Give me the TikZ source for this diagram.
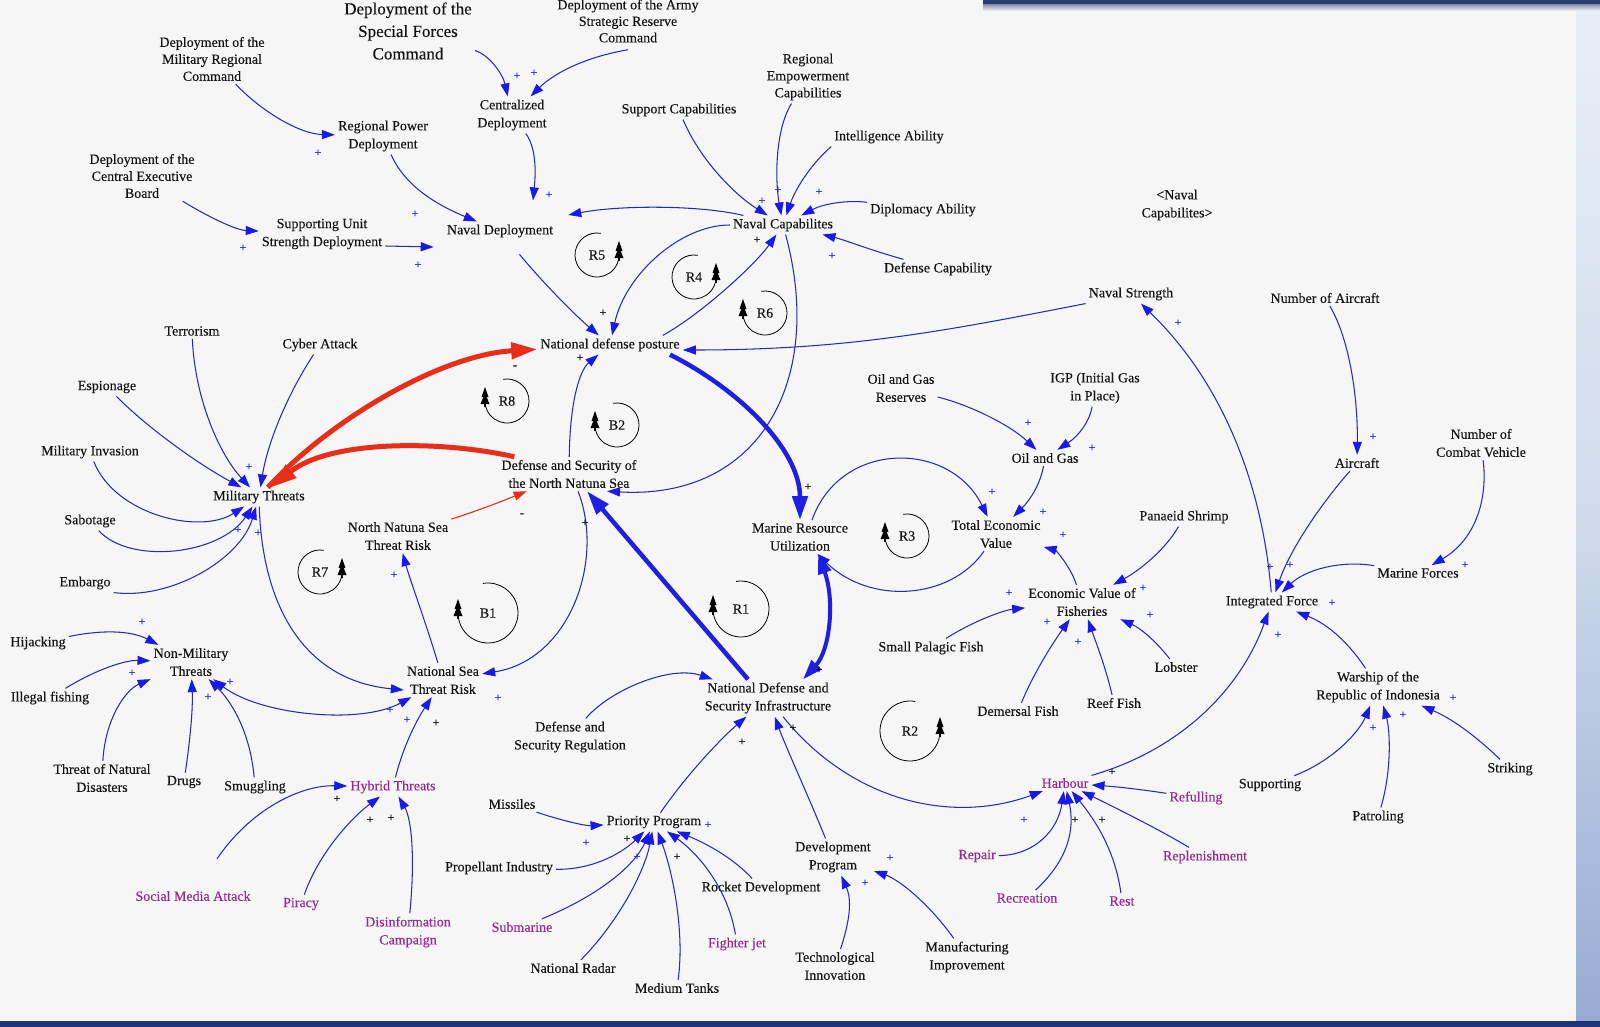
\documentclass[tikz,border=0pt]{standalone}
\usepackage{fontspec}
\setmainfont{Liberation Serif}
\newfontfamily\lblfont[FakeBold=0.25]{Liberation Serif}
\usetikzlibrary{arrows.meta}
\definecolor{bgc}{RGB}{246,246,246}
\definecolor{lnc}{RGB}{40,40,185}
\definecolor{ahc}{RGB}{25,25,235}
\definecolor{thb}{RGB}{30,30,228}
\definecolor{rdc}{RGB}{232,45,25}
\definecolor{puc}{RGB}{150,40,145}
\definecolor{navyc}{RGB}{45,60,110}
\definecolor{botc}{RGB}{32,52,120}
\definecolor{txc}{RGB}{20,20,20}
\newcounter{plc}
\newcommand\addplus[3]{\stepcounter{plc}\node[#1] (plus\arabic{plc}) at (#2,#3) {+};}
\newcommand\loopR[5]{\node[looplbl] (#1) at (#2,#3) {#5};
 \draw[loopc] ({#2+#4*cos(-80)},{#3+#4*sin(-80)}) arc[start angle=-80,end angle=-352,radius=#4];
 \pic at ({#2+#4},{#3-3}) {lmark};}
\newcommand\loopL[5]{\node[looplbl] (#1) at (#2,#3) {#5};
 \draw[loopc] ({#2+#4*cos(-100)},{#3+#4*sin(-100)}) arc[start angle=-100,end angle=172,radius=#4];
 \pic at ({#2-#4},{#3-3}) {lmark};}
\tikzset{
 lbl/.style={font=\lblfont\fontsize{14}{18}\selectfont, align=center, inner sep=3pt, text=txc},
 lbl3/.style={lbl, font=\lblfont\fontsize{14}{17}\selectfont},
 plbl/.style={lbl, text=puc},
 looplbl/.style={font=\lblfont\fontsize{14}{16}\selectfont, inner sep=1pt, text=txc},
 loopc/.style={draw=black, line width=0.8pt},
 lnk/.style={draw=lnc, line width=1.05pt, -{Triangle[length=13pt,width=9pt,color=ahc]}},
 lnk2/.style={draw=lnc, line width=1.05pt, {Triangle[length=13pt,width=9pt,color=ahc]}-{Triangle[length=13pt,width=9pt,color=ahc]}},
 thk/.style={draw=thb, line width=4.5pt, -{Triangle[length=24pt,width=15pt,color=thb]}},
 thk2/.style={draw=thb, line width=4pt, {Triangle[length=20pt,width=13pt,color=thb]}-{Triangle[length=20pt,width=13pt,color=thb]}},
 redthk/.style={draw=rdc, line width=5pt, -{Triangle[length=26pt,width=16pt,color=rdc]}},
 redthin/.style={draw=rdc, line width=1.1pt, -{Triangle[length=13pt,width=9pt,color=rdc]}},
 pb/.style={text=ahc, font=\lblfont\fontsize{12}{12}\selectfont, inner sep=0pt},
 pk/.style={text=black, font=\lblfont\fontsize{12}{12}\selectfont, inner sep=0pt},
 lmark/.pic={\fill[black] (-3.5,-1) -- (0,-11) -- (3.5,-1) -- cycle;
             \fill[black] (-4.5,6) -- (0,-5) -- (4.5,6) -- cycle;
             \draw[black,line width=1.5pt] (0,4) -- (0,9);}
}
\begin{document}
\begin{tikzpicture}[x=1pt,y=-1pt]
\useasboundingbox (0,0) rectangle (1600,1027);
\clip (0,0) rectangle (1600,1027);
\fill[bgc] (0,0) rectangle (1600,1027);
\shade[top color={rgb,255:red,232;green,238;blue,246}, bottom color={rgb,255:red,150;green,172;blue,212}, middle color={rgb,255:red,208;green,220;blue,236}] (1576,0) rectangle (1600,1021);
\shade[top color=navyc!60, bottom color=bgc] (983,4) rectangle (1600,11);
\fill[navyc] (983,0) rectangle (1600,4);
\fill[botc] (0,1021) rectangle (1600,1027);

% ---------- nodes ----------
\node[lbl, font=\lblfont\fontsize{17}{22.5}\selectfont] (specf) at (408,31) {Deployment of the\\Special Forces\\Command};
\node[lbl, font=\lblfont\fontsize{14}{16.5}\selectfont] (army) at (628,21) {Deployment of the Army\\Strategic Reserve\\Command};
\node[lbl3] (milreg) at (212,59) {Deployment of the\\Military Regional\\Command};
\node[lbl] (regpow) at (383,136) {Regional Power\\Deployment};
\node[lbl3] (cexec) at (142,176) {Deployment of the\\Central Executive\\Board};
\node[lbl] (suppu) at (322,234) {Supporting Unit\\Strength Deployment};
\node[lbl] (central) at (512,115) {Centralized\\Deployment};
\node[lbl] (navdep) at (500,231) {Naval Deployment};
\node[lbl] (suppcap) at (679,110) {Support Capabilities};
\node[lbl3] (regemp) at (808,77) {Regional\\Empowerment\\Capabilities};
\node[lbl] (intel) at (889,137) {Intelligence Ability};
\node[lbl] (diplo) at (923,210) {Diplomacy Ability};
\node[lbl] (navcap) at (783,225) {Naval Capabilites};
\node[lbl] (defcap) at (938,269) {Defense Capability};
\node[lbl] (navcapb) at (1177,205) {\textless Naval\\Capabilites\textgreater};
\node[lbl] (navstr) at (1131,294) {Naval Strength};
\node[lbl] (ndp) at (610,345) {National defense posture};
\node[lbl] (terror) at (192,331) {Terrorism};
\node[lbl] (cyber) at (320,345) {Cyber Attack};
\node[lbl] (espion) at (107,387) {Espionage};
\node[lbl] (invas) at (90,452) {Military Invasion};
\node[lbl] (milthr) at (259,497) {Military Threats};
\node[lbl] (sabot) at (90,521) {Sabotage};
\node[lbl] (embargo) at (85,583) {Embargo};
\node[lbl] (nnstr) at (398,536) {North Natuna Sea\\Threat Risk};
\node[lbl] (dsnns) at (569,474) {Defense and Security of\\the North Natuna Sea};
\node[lbl] (mru) at (800,537) {Marine Resource\\Utilization};
\node[lbl] (ogr) at (901,388) {Oil and Gas\\Reserves};
\node[lbl] (igp) at (1095,388) {IGP (Initial Gas\\in Place)};
\node[lbl] (oilgas) at (1045,458) {Oil and Gas};
\node[lbl] (tev) at (996,534) {Total Economic\\Value};
\node[lbl] (shrimp) at (1184,517) {Panaeid Shrimp};
\node[lbl] (evf) at (1082,602) {Economic Value of\\Fisheries};
\node[lbl] (spf) at (931,648) {Small Palagic Fish};
\node[lbl] (demersal) at (1018,711) {Demersal Fish};
\node[lbl] (reef) at (1114,703) {Reef Fish};
\node[lbl] (lobster) at (1176,667) {Lobster};
\node[plbl] (harbour) at (1065,783) {Harbour};
\node[plbl] (refull) at (1196,798) {Refulling};
\node[plbl] (replen) at (1205,857) {Replenishment};
\node[plbl] (repair) at (977,856) {Repair};
\node[plbl] (recre) at (1027,898) {Recreation};
\node[plbl] (rest) at (1122,901) {Rest};
\node[lbl] (devprog) at (833,857) {Development\\Program};
\node[lbl] (techinn) at (835,966) {Technological\\Innovation};
\node[lbl] (manuf) at (967,957) {Manufacturing\\Improvement};
\node[lbl] (ndsi) at (768,698) {National Defense and\\Security Infrastructure};
\node[lbl] (dsreg) at (570,737) {Defense and\\Security Regulation};
\node[lbl] (prio) at (654,822) {Priority Program};
\node[lbl] (missiles) at (512,804) {Missiles};
\node[lbl] (propel) at (499,868) {Propellant Industry};
\node[plbl] (subm) at (522,927) {Submarine};
\node[lbl] (radar) at (573,968) {National Radar};
\node[lbl] (tanks) at (677,988) {Medium Tanks};
\node[plbl] (fjet) at (737,944) {Fighter jet};
\node[lbl] (rocket) at (761,888) {Rocket Development};
\node[lbl] (nstr) at (443,680) {National Sea\\Threat Risk};
\node[lbl] (hijack) at (38,643) {Hijacking};
\node[lbl] (nmt) at (191,662) {Non-Military\\Threats};
\node[lbl] (illeg) at (50,698) {Illegal fishing};
\node[lbl] (tnd) at (102,778) {Threat of Natural\\Disasters};
\node[lbl] (drugs) at (184,782) {Drugs};
\node[lbl] (smug) at (255,787) {Smuggling};
\node[plbl] (hybrid) at (393,787) {Hybrid Threats};
\node[plbl] (sma) at (193,896) {Social Media Attack};
\node[plbl] (piracy) at (301,904) {Piracy};
\node[plbl] (disinfo) at (408,932) {Disinformation\\Campaign};
\node[lbl] (noa) at (1325,298) {Number of Aircraft};
\node[lbl] (aircraft) at (1357,463) {Aircraft};
\node[lbl] (ncv) at (1481,443) {Number of\\Combat Vehicle};
\node[lbl] (marine) at (1418,573) {Marine Forces};
\node[lbl] (intf) at (1272,602) {Integrated Force};
\node[lbl] (warship) at (1378,687) {Warship of the\\Republic of Indonesia};
\node[lbl] (supporting) at (1270,785) {Supporting};
\node[lbl] (patrol) at (1378,817) {Patroling};
\node[lbl] (striking) at (1510,769) {Striking};

% ---------- loops ----------
\loopR{lR5}{597}{255}{22}{R5}
\loopR{lR4}{694}{277}{22}{R4}
\loopL{lR6}{765}{313}{22}{R6}
\loopL{lR8}{507}{401}{22}{R8}
\loopL{lB2}{617}{425}{22}{B2}
\loopR{lR7}{320}{572}{22}{R7}
\loopL{lB1}{488}{613}{30}{B1}
\loopL{lR1}{741}{609}{28}{R1}
\loopL{lR3}{907}{536}{22}{R3}
\loopR{lR2}{910}{731}{30}{R2}

% ---------- connectors ----------
\draw[lnk] (milreg) .. controls (262,112) and (300,134) .. (regpow);
\draw[lnk] (cexec) .. controls (205,215) and (235,230) .. (suppu);
\draw[lnk] ([yshift=-12pt]suppu.east) -- ([xshift=-10pt,yshift=-16pt]navdep.west);
\draw[lnk] (regpow) .. controls (400,175) and (420,198) .. (navdep);
\draw[lnk] (specf) .. controls (490,55) and (503,75) .. (central);
\draw[lnk] ([yshift=-4pt]army.south) .. controls (570,60) and (545,82) .. (central);
\draw[lnk] (central) .. controls (538,150) and (535,180) .. ([xshift=33pt,yshift=21pt]navdep.north);
\draw[lnk] (navcap) .. controls (700,205) and (620,205) .. ([xshift=12pt,yshift=16pt]navdep.east);
\draw[lnk] (suppcap) .. controls (700,160) and (735,195) .. (navcap);
\draw[lnk] (regemp) .. controls (775,130) and (775,180) .. (navcap);
\draw[lnk] (intel.south west) .. controls (810,165) and (795,190) .. (navcap);
\draw[lnk] (diplo) .. controls (850,200) and (825,203) .. (navcap);
\draw[lnk] (defcap) .. controls (870,250) and (845,240) .. (navcap);
\draw[lnk, shorten <=18pt] (navdep) .. controls (545,285) and (575,315) .. (ndp);
\draw[lnk] (navcap) .. controls (680,225) and (625,275) .. (ndp);
\draw[lnk] ([xshift=-20pt]ndp.north east) .. controls (700,315) and (755,265) .. (navcap);
\draw[lnk] (navcap) .. controls (825,380) and (760,500) .. ([xshift=38pt]dsnns.south);
\draw[lnk] (navstr.south west) .. controls (950,330) and (850,350) .. ([yshift=-5pt]ndp.east);
\draw[lnk] (intf) .. controls (1262,480) and (1220,380) .. (navstr);
\draw[redthk] (milthr) .. controls (330,420) and (440,355) .. (ndp);
\draw[redthk] ([xshift=16pt]dsnns.north west) .. controls (440,440) and (330,440) .. (milthr);
\draw[redthin] (nnstr) .. controls (480,510) and (505,500) .. (dsnns);
\draw[lnk] (nstr) .. controls (425,620) and (410,580) .. (nnstr);
\draw[lnk] (dsnns) .. controls (570,400) and (580,370) .. (ndp);
\draw[thk] ([xshift=60pt]ndp.south) .. controls (740,390) and (800,450) .. (mru);
\draw[thk] ([xshift=-20pt]ndsi.north) -- ([xshift=18pt]dsnns.south);
\draw[lnk] ([xshift=9pt]dsnns.south) .. controls (605,560) and (570,660) .. (nstr);
\draw[lnk] (milthr) .. controls (262,600) and (300,680) .. ([yshift=-10pt]nstr.west);
\draw[lnk2] (nmt) .. controls (260,715) and (360,725) .. (nstr);
\draw[lnk] (hybrid) .. controls (405,740) and (420,715) .. (nstr);
\draw[lnk] ([xshift=24pt,yshift=29pt]sma.north) .. controls (250,810) and (300,785) .. (hybrid);
\draw[lnk] (piracy) .. controls (320,850) and (355,815) .. (hybrid);
\draw[lnk] (disinfo) .. controls (415,860) and (412,820) .. (hybrid);
\draw[lnk] (hijack) .. controls (100,630) and (130,630) .. (nmt);
\draw[lnk] (illeg) .. controls (95,670) and (125,660) .. (nmt);
\draw[lnk] (tnd) .. controls (105,720) and (125,690) .. (nmt);
\draw[lnk] (drugs) .. controls (190,740) and (193,710) .. (nmt);
\draw[lnk] (smug) .. controls (250,730) and (230,700) .. (nmt);
\draw[lnk] (terror) .. controls (195,400) and (220,455) .. (milthr);
\draw[lnk] (cyber) .. controls (290,390) and (268,440) .. (milthr);
\draw[lnk] (espion) .. controls (150,430) and (200,465) .. (milthr);
\draw[lnk] (invas) .. controls (115,515) and (200,535) .. (milthr);
\draw[lnk] (sabot) .. controls (130,565) and (220,555) .. (milthr);
\draw[lnk] (embargo.south east) .. controls (170,600) and (240,560) .. (milthr);
\draw[lnk] (dsreg) .. controls (610,690) and (670,665) .. (ndsi);
\draw[lnk] (prio) .. controls (690,770) and (725,735) .. (ndsi);
\draw[lnk] (devprog) .. controls (810,800) and (785,745) .. (ndsi);
\draw[lnk] (ndsi) .. controls (850,800) and (950,825) .. (harbour);
\draw[lnk] (harbour) .. controls (1180,750) and (1240,690) .. (intf);
\draw[lnk] (refull) .. controls (1145,790) and (1120,787) .. (harbour);
\draw[lnk] (replen) .. controls (1160,830) and (1120,810) .. (harbour);
\draw[lnk] (repair) .. controls (1035,855) and (1058,830) .. (harbour);
\draw[lnk] (recre) .. controls (1068,860) and (1075,830) .. (harbour);
\draw[lnk] (rest) .. controls (1115,850) and (1095,820) .. (harbour);
\draw[lnk] (techinn) .. controls (850,920) and (852,900) .. (devprog);
\draw[lnk] (manuf) .. controls (930,905) and (900,880) .. (devprog);
\draw[lnk] (missiles) .. controls (560,820) and (585,826) .. (prio);
\draw[lnk] (propel) .. controls (590,870) and (620,855) .. (prio);
\draw[lnk] (subm) .. controls (600,895) and (635,865) .. (prio);
\draw[lnk] (radar) .. controls (620,920) and (645,870) .. (prio);
\draw[lnk] (tanks) .. controls (685,930) and (672,870) .. (prio);
\draw[lnk] (fjet) .. controls (728,890) and (700,855) .. (prio);
\draw[lnk] (rocket) .. controls (735,860) and (710,845) .. (prio);
\draw[thk2] ([xshift=18pt]mru.south) .. controls (835,600) and (830,650) .. ([xshift=35pt]ndsi.north);
\draw[lnk] ([xshift=12pt]mru.north) .. controls (840,440) and (950,440) .. (tev);
\draw[lnk] (tev) .. controls (950,600) and (870,605) .. (mru);
\draw[lnk] (ogr) .. controls (970,405) and (1010,425) .. (oilgas);
\draw[lnk] (igp) .. controls (1090,420) and (1080,435) .. (oilgas);
\draw[lnk] (oilgas) .. controls (1040,485) and (1030,500) .. (tev);
\draw[lnk] (evf) .. controls (1070,565) and (1055,550) .. (tev);
\draw[lnk] (shrimp) .. controls (1165,550) and (1140,570) .. (evf);
\draw[lnk] (spf) .. controls (975,620) and (1005,610) .. (evf);
\draw[lnk] (demersal) .. controls (1035,670) and (1055,640) .. (evf);
\draw[lnk] (reef) .. controls (1105,665) and (1095,640) .. (evf);
\draw[lnk] (lobster) .. controls (1155,640) and (1140,628) .. (evf);
\draw[lnk] (noa) .. controls (1350,340) and (1358,400) .. (aircraft);
\draw[lnk] (aircraft) .. controls (1320,505) and (1290,550) .. (intf);
\draw[lnk] (ncv) .. controls (1488,500) and (1475,540) .. (marine);
\draw[lnk] (marine) .. controls (1340,560) and (1305,570) .. (intf);
\draw[lnk] (warship) .. controls (1350,645) and (1330,625) .. (intf);
\draw[lnk] (supporting) .. controls (1335,760) and (1360,730) .. (warship);
\draw[lnk] (patrol) .. controls (1392,770) and (1390,730) .. (warship);
\draw[lnk] (striking) .. controls (1480,740) and (1455,720) .. (warship);

% ---------- polarity signs ----------
\addplus{pb}{318}{153}\addplus{pb}{243}{248}\addplus{pb}{415}{214}\addplus{pb}{418}{265}
\addplus{pb}{517}{76}\addplus{pb}{534}{73}\addplus{pb}{549}{195}\addplus{pb}{762}{201}
\addplus{pb}{778}{190}\addplus{pb}{819}{192}\addplus{pb}{832}{256}
\addplus{pb}{249}{467}\addplus{pb}{258}{533}\addplus{pb}{238}{530}\addplus{pb}{394}{575}
\addplus{pb}{142}{622}\addplus{pb}{132}{673}\addplus{pb}{208}{697}\addplus{pb}{230}{682}
\addplus{pb}{390}{710}\addplus{pb}{407}{720}\addplus{pb}{498}{698}
\addplus{pb}{1028}{423}\addplus{pb}{1092}{448}\addplus{pb}{992}{492}\addplus{pb}{1043}{512}
\addplus{pb}{1063}{535}\addplus{pb}{1143}{588}\addplus{pb}{1009}{593}\addplus{pb}{1047}{622}
\addplus{pb}{1078}{642}\addplus{pb}{1150}{615}
\addplus{pb}{1024}{820}\addplus{pb}{890}{858}\addplus{pb}{865}{883}\addplus{pb}{586}{843}
\addplus{pb}{637}{857}\addplus{pb}{708}{825}
\addplus{pb}{1178}{323}\addplus{pb}{1373}{437}\addplus{pb}{1270}{567}\addplus{pb}{1290}{565}
\addplus{pb}{1465}{565}\addplus{pb}{1332}{603}\addplus{pb}{1278}{635}\addplus{pb}{1453}{698}
\addplus{pb}{1403}{715}\addplus{pb}{1373}{728}
\addplus{pk}{603}{313}\addplus{pk}{580}{358}\addplus{pk}{585}{523}\addplus{pk}{808}{487}
\addplus{pk}{757}{240}\addplus{pk}{819}{670}\addplus{pk}{436}{723}\addplus{pk}{337}{799}
\addplus{pk}{370}{820}\addplus{pk}{391}{818}\addplus{pk}{627}{839}\addplus{pk}{677}{857}
\addplus{pk}{793}{728}\addplus{pk}{742}{742}\addplus{pk}{1112}{772}\addplus{pk}{1075}{820}
\addplus{pk}{1102}{820}
\node[pk] (minus1) at (515,367) {-};
\node[pk] (minus2) at (522,515) {-};
\end{tikzpicture}
\end{document}
